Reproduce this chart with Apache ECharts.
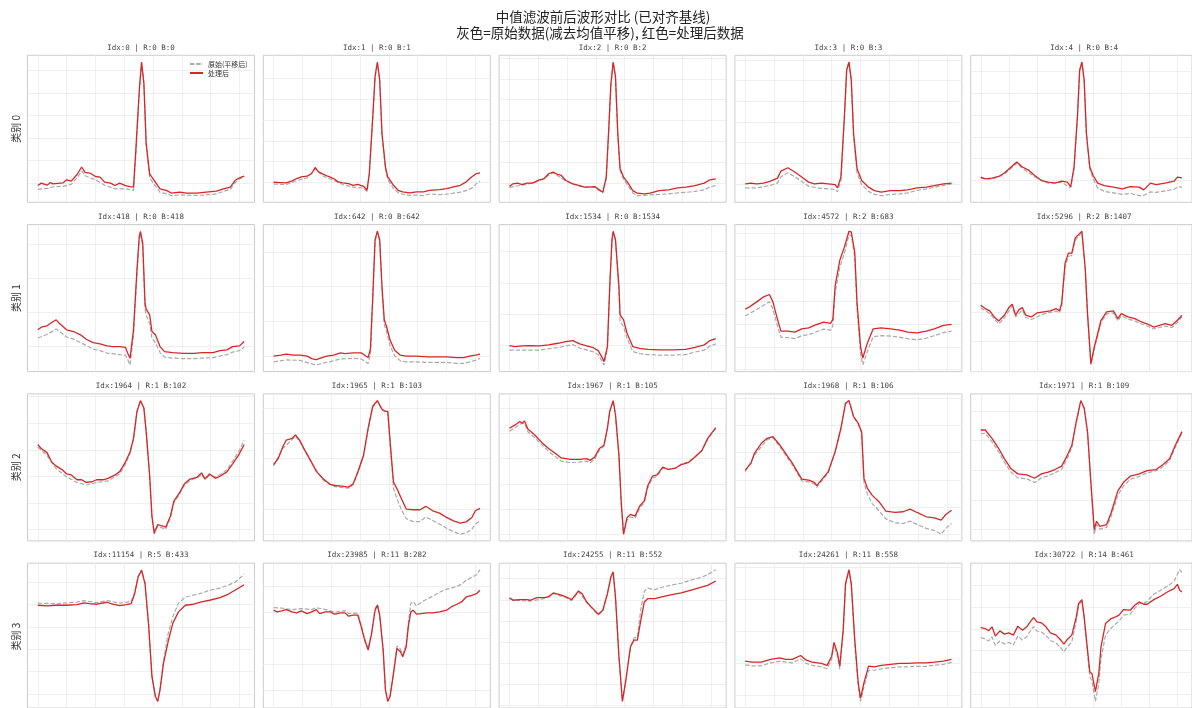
<!DOCTYPE html>
<html><head><meta charset="utf-8">
<script src="https://cdn.jsdelivr.net/npm/echarts@6/dist/echarts.min.js"></script>
<style>html,body{margin:0;padding:0;background:#fff}#c{width:1192px;height:708px}</style>
</head><body><div id="c"></div>
<script>
// ---- titles / labels ----
const mainTitle1 = '中值滤波前后波形对比 (已对齐基线)';
const mainTitle2 = '灰色=原始数据(减去均值平移), 红色=处理后数据';
const rowLabels = ['类别 0', '类别 1', '类别 2', '类别 3'];
const panelTitles = [
  'Idx:0 | R:0 B:0', 'Idx:1 | R:0 B:1', 'Idx:2 | R:0 B:2', 'Idx:3 | R:0 B:3', 'Idx:4 | R:0 B:4',
  'Idx:418 | R:0 B:418', 'Idx:642 | R:0 B:642', 'Idx:1534 | R:0 B:1534', 'Idx:4572 | R:2 B:683', 'Idx:5296 | R:2 B:1407',
  'Idx:1964 | R:1 B:102', 'Idx:1965 | R:1 B:103', 'Idx:1967 | R:1 B:105', 'Idx:1968 | R:1 B:106', 'Idx:1971 | R:1 B:109',
  'Idx:11154 | R:5 B:433', 'Idx:23985 | R:11 B:282', 'Idx:24255 | R:11 B:552', 'Idx:24261 | R:11 B:558', 'Idx:30722 | R:14 B:461'
];
const legendNames = ['原始(平移后)', '处理后'];
const sampleCount = 180;
const xGridTicks = [0, 25, 50, 75, 100, 125, 150, 175];

// ---- waveform values [sample index, amplitude] (orig = grey, proc = red) ----
const orig_r0c0 = [[0,13.5],[8,14.5],[13,16],[22,16.5],[29,18.5],[34,25],[38,32],[41,27],[50,23],[58,17.5],[67,14],[76,14],[83,12.5],[85,48],[88,110],[90,139],[92,118],[94,56],[97,25],[100,20],[106,10.5],[112,9],[116,7.3],[123,8],[138,7.5],[146,8],[155,9],[161,11.5],[167,13.5],[171,20],[175,24],[179,26]];
const proc_r0c0 = [[0,17.3],[3,19.7],[8,17.7],[11,20.3],[13,19],[22,20],[25,23],[29,21.7],[34,28.3],[38,35.7],[41,30.3],[45,29.7],[50,26.3],[54,25.7],[58,20.7],[63,19.7],[67,17.3],[71,19.7],[76,17.3],[80,16.3],[83,15.7],[85,52],[88,112],[90,140],[92,119],[94,59],[97,29],[100,24],[106,14],[112,12.3],[116,9.7],[123,10.7],[129,9.7],[138,9.7],[146,10.7],[155,11.7],[161,14],[167,15.7],[171,22.3],[175,25],[179,26.7]];
const orig_r0c1 = [[0,18.5],[11,18],[20,22],[29,24.5],[36,33.5],[43,26.5],[52,22],[60,18],[69,15.5],[78,14.5],[81,11],[83,27],[86,84],[88,125],[90,139.5],[92,121],[94,67],[97,33],[99,23],[104,14],[108,10],[112,8.5],[118,7.3],[124,7.5],[130,7],[135,8.5],[144,8],[150,8.5],[156,9.5],[162,10.5],[167,12],[172,14.5],[176,19],[179,21.3]];
const proc_r0c1 = [[0,20.3],[6,20],[11,19.7],[16,21.7],[20,24],[24,25.7],[29,26.3],[33,29],[36,35],[39,30.7],[43,28.3],[47,26.3],[52,24],[56,20.7],[60,19.7],[65,19],[69,17.3],[73,18.3],[78,16.3],[81,12.3],[83,29],[86,85.7],[88,125.7],[90,140],[92,122.3],[94,69],[97,35.7],[99,25.7],[104,17.3],[108,12.3],[112,10.7],[118,9.7],[124,10.7],[130,10.7],[135,12.3],[144,13],[150,14],[156,15.7],[162,17.3],[167,20.7],[172,25.7],[176,29],[179,29.7]];
const orig_r0c2 = [[0,15.5],[15,18.5],[26,22],[38,30],[49,21.5],[61,16.5],[74,15.5],[81,10],[84,24],[86,68],[88,116],[90,139.5],[92,124],[94,67],[96,32],[99,23.5],[103,17],[107,10],[111,7.3],[117,7.5],[122,8],[130,8.5],[138,9],[146,10],[153,10.5],[161,11.5],[169,13],[174,16],[179,17.3]];
const proc_r0c2 = [[0,16.3],[3,19],[7,19.7],[11,18.3],[15,19.7],[20,19.7],[26,23],[30,24],[34,29],[38,30.7],[42,28.3],[45,27.3],[49,22.3],[55,19],[61,17.3],[65,15.7],[68,15.7],[74,16.3],[78,13],[81,10.7],[84,25.7],[86,70],[88,118],[90,140],[92,125.7],[94,69],[96,34],[99,25.7],[103,19.7],[107,12.3],[111,9.7],[117,9],[122,9.7],[130,12.3],[138,13],[146,15],[153,15.7],[161,17.3],[169,19.7],[174,23],[179,24]];
const orig_r0c3 = [[0,15],[10,15],[22,17.5],[28,20],[31,26],[37,30],[43,26],[49,21.5],[55,16.5],[66,14.5],[78,13.5],[80,11],[83,22],[86,83],[88,131],[90,139.5],[92,121],[94,66],[97,30],[101,18],[107,11.5],[112,8.5],[118,7.3],[126,8.5],[134,9],[141,10],[149,12.5],[157,14],[164,15.5],[172,17.5],[179,19]];
const proc_r0c3 = [[0,19],[5,19.7],[10,19],[16,19.7],[22,21.7],[28,24.7],[31,31.7],[37,35],[43,30.7],[49,25.7],[55,20.7],[60,19],[66,19.7],[72,19],[78,18.3],[80,15],[83,25.7],[86,85.7],[88,132],[90,140],[92,122.3],[94,69],[97,34],[101,22.3],[107,15.7],[112,12.3],[118,10.7],[126,12.3],[134,12.3],[141,13],[149,15],[157,15.7],[164,17.3],[172,19],[179,19.7]];
const orig_r0c4 = [[0,24.5],[10,23.5],[21,28.5],[27,34.5],[32,39.5],[37,34.5],[48,26],[60,19.5],[72,20.5],[80,15],[83,34],[86,84],[88,131],[90,139.5],[92,121],[94,68],[97,34],[100,24],[104,15],[110,11.5],[118,10],[126,8.5],[133,9.5],[141,7.3],[145,7.5],[151,11],[156,10.5],[164,12],[172,13.5],[175,16],[179,15.7]];
const proc_r0c4 = [[0,25.7],[4,24],[10,24.7],[16,26.3],[21,29.7],[27,35.7],[32,40.7],[37,35.7],[43,32.3],[48,27.3],[54,22.3],[60,20.7],[66,19.7],[72,21.7],[77,20.7],[80,16.3],[83,35.7],[86,85.7],[88,132],[90,140],[92,122.3],[94,69],[97,35.7],[100,27.3],[104,19.7],[110,17.3],[118,15.7],[126,14],[133,16.3],[141,15.7],[145,13],[151,19.7],[156,18.3],[164,19.7],[172,21.7],[175,25.7],[179,25]];

const orig_r1c0 = [[0,33.5],[8,37],[16,42.5],[19,40],[25,34.5],[31,32.5],[42,26],[48,22.5],[54,21],[60,18.5],[71,17],[76,16.5],[78,12],[80,6.7],[83,36],[86,97],[88,132],[89,138],[91,125],[93,62],[94,56],[97,48],[99,33],[102,29],[106,19],[110,14.5],[117,13.5],[126,13],[135,13],[143,13.5],[152,14],[158,15.5],[164,17],[169,19.5],[175,21],[179,24.5]];
const proc_r1c0 = [[0,41.7],[3,44.3],[8,45.7],[12,49],[16,51.7],[19,47.7],[25,41.7],[31,40],[37,36.7],[42,32.3],[48,29],[54,27.7],[60,25.7],[65,25],[71,25],[76,24.3],[78,18.3],[80,13.3],[83,41.7],[86,101.7],[88,135],[89,140],[91,128.3],[93,68.3],[94,62.3],[97,56.7],[99,40],[102,36.7],[106,25],[110,20],[117,19],[126,18.3],[135,18.3],[143,19],[152,19],[158,21],[164,21.7],[169,25],[175,25.7],[179,30]];
const orig_r1c1 = [[0,10],[11,12],[23,11.5],[33,8],[37,7],[42,8.5],[52,11],[58,13],[69,13.5],[76,13],[82,8.5],[84,18],[86,72],[88,130],[90,139],[92,130],[94,82],[96,47],[98,40],[101,26],[105,16],[110,11],[115,10],[124,10],[133,9.5],[141,9.5],[150,9.5],[159,8.5],[165,8.5],[170,10],[175,11.5],[179,13.5]];
const proc_r1c1 = [[0,15.7],[6,16.7],[11,17.7],[17,16.7],[23,16.7],[29,15.7],[33,13.3],[37,12.3],[42,14.3],[46,15.7],[52,16.7],[58,19],[62,18.3],[69,19],[76,19],[79,16.7],[82,14.3],[84,23.3],[86,75],[88,131.7],[90,140],[92,131.7],[94,85],[96,51.7],[98,45],[101,31.7],[105,21.7],[110,16.7],[115,15.7],[124,15.7],[133,15],[141,15],[150,15],[159,14.3],[165,14.3],[170,15.7],[175,16.7],[179,17.7]];
const orig_r1c2 = [[0,21.5],[11,21.5],[26,21.5],[42,24],[55,27],[61,23.5],[72,20],[77,17],[80,11],[82,6.7],[85,22],[87,83],[89,131],[90,139],[92,130],[95,80],[96,50],[99,45],[102,33],[107,20],[113,18],[120,17],[130,16.5],[142,16.5],[153,17],[161,19.5],[169,21.5],[174,25.5],[179,27.7]];
const proc_r1c2 = [[0,26],[5,25],[11,25.7],[18,26],[26,25.7],[34,26.7],[42,28.3],[49,30],[55,31],[61,27.7],[67,25.7],[72,24.3],[77,21],[80,15],[82,10],[85,25],[87,85],[89,132.3],[90,140],[92,131.7],[95,85],[96,56.7],[99,51.7],[102,38.3],[107,25],[113,23.3],[120,22.3],[130,21.7],[142,21.7],[153,22.3],[161,24.3],[169,26.7],[174,31],[179,33]];
const orig_r1c3 = [[0,55],[10,61.5],[21,69],[24,62],[28,45],[31,34],[37,33.5],[43,32.5],[49,35.5],[55,36.5],[60,38.5],[68,42],[74,41],[76,45],[78,78],[82,103],[86,117],[90,135.5],[92,135],[95,113],[97,62],[100,18],[102,6.5],[106,20],[111,34.5],[118,35.5],[126,35],[134,34],[141,32.5],[149,31.5],[157,33],[164,35.5],[172,38.5],[179,40]];
const proc_r1c3 = [[0,61.7],[4,64.3],[10,69],[16,74],[21,76.3],[24,69],[28,51.7],[31,40],[37,40],[43,39],[49,42.3],[55,43.3],[60,45.7],[68,49],[74,47.7],[76,51.7],[78,85],[82,110],[86,123.3],[90,139],[92,138.3],[95,118.3],[97,68.3],[100,25],[102,13.3],[106,28.3],[111,42.3],[118,43.3],[126,42.3],[134,41],[141,39],[149,38.3],[157,40],[164,42.3],[172,45.7],[179,46.7]];
const orig_r1c4 = [[0,64],[8,58.5],[16,48],[21,54],[28,66],[31,55],[37,62],[40,54.5],[45,52.5],[56,58],[67,61],[70,59],[72,66],[75,105],[78,115],[81,116],[84,131],[87,135],[90,138.5],[93,101],[95,57],[98,7.4],[101,23],[104,36],[107,49.5],[112,58],[118,59],[122,51],[125,56],[131,53],[137,51],[143,48],[149,45.5],[154,43],[159,44.5],[164,46],[170,44.5],[175,49.5],[179,55]];
const proc_r1c4 = [[0,66.7],[4,63.3],[8,61],[12,55],[16,51],[21,56.7],[25,64.3],[28,67.7],[31,56.7],[34,62.3],[37,64.3],[40,56.7],[45,55],[50,59],[56,60],[62,61],[67,63.3],[70,61],[72,68.3],[75,108.3],[78,118.3],[81,118.3],[84,133.3],[87,136.7],[90,140],[93,102.3],[95,58.3],[98,8.6],[101,25],[104,38.3],[107,51.7],[112,60],[118,61],[122,53.3],[125,58.3],[131,55],[137,53.3],[143,50],[149,47.7],[154,45],[159,46.7],[164,48.3],[170,46.7],[175,51.7],[179,56.7]];

const orig_r2c0 = [[0,93.5],[8,85],[16,72],[25,64],[34,58.5],[42,56],[51,58.5],[61,60],[71,67],[76,76.5],[80,87],[83,101],[86,128],[89,139],[92,131.5],[94,108],[97,65],[99,24],[101,7.5],[102,10.5],[104,15],[107,14],[111,12.5],[115,23.5],[118,38.5],[123,47],[127,55.5],[132,60.5],[138,63],[142,66],[145,62],[149,65.5],[154,64],[158,66],[164,71],[169,79.5],[174,88.5],[179,100.2]];
const proc_r2c0 = [[0,95.9],[3,91.9],[8,87.9],[12,78.6],[16,74.6],[21,71.2],[25,66.9],[29,65.9],[34,61.2],[38,61.2],[42,58.6],[47,59.2],[51,61.2],[57,61.2],[61,62.6],[67,65.9],[71,69.2],[76,78.6],[80,88.6],[83,101.9],[86,128.6],[89,139.2],[92,131.9],[94,108.6],[97,65.2],[99,25.2],[101,8.6],[102,11.9],[104,16.9],[107,15.9],[111,14.6],[115,25.2],[118,40.2],[123,48.6],[127,56.9],[132,61.9],[138,63.6],[142,67.9],[145,61.9],[149,66.9],[154,62.6],[158,64.6],[164,68.9],[169,76.9],[174,85.2],[179,95.9]];
const orig_r2c1 = [[0,74.5],[8,92],[16,100.5],[19,104],[23,98],[32,79],[43,60.5],[53,54],[65,52.5],[69,56],[73,67.5],[78,84],[82,111],[86,133],[90,139],[94,130],[97,128],[99,127.5],[102,82],[104,52],[107,42],[111,31],[115,22.5],[121,19.5],[127,19.5],[132,24],[138,20.5],[144,17],[150,13],[156,9.5],[162,7],[167,8.5],[172,12],[175,17],[179,20.2]];
const proc_r2c1 = [[0,75.9],[4,81.9],[8,93.6],[11,100.2],[16,101.9],[19,105.2],[23,99.2],[27,90.2],[32,80.2],[37,69.2],[43,61.9],[49,56.2],[53,55.2],[59,54.6],[65,53.6],[69,56.9],[73,68.6],[78,85.2],[82,111.9],[86,133.6],[90,139.2],[94,130.6],[97,128.6],[99,128.6],[102,85.2],[104,58.6],[107,51.9],[111,41.9],[115,31.9],[121,31.2],[127,31.2],[132,34.6],[138,30.2],[144,27.9],[150,23.6],[156,20.2],[162,17.9],[167,19.2],[172,23.6],[175,30.2],[179,32.6]];
const orig_r2c2 = [[0,109],[5,112.5],[9,116],[13,117],[16,108.5],[22,102.5],[34,89],[45,79.5],[53,78],[61,78.5],[67,79.5],[70,77.5],[74,81.5],[78,90],[82,94],[85,111],[87,128],[90,139],[92,125],[95,84],[97,36],[99,7.3],[102,21],[105,24.5],[109,23],[113,33],[117,38.5],[120,53],[124,62.5],[128,64.5],[133,72.5],[138,71],[144,72.5],[149,76.5],[155,78.5],[161,84],[167,90],[172,101],[179,112]];
const proc_r2c2 = [[0,111.9],[5,115.2],[9,118.6],[11,116.9],[13,119.2],[16,111.2],[22,105.2],[28,97.9],[34,91.9],[40,86.9],[45,82.6],[53,81.2],[61,81.2],[67,81.9],[70,80.2],[74,83.6],[78,91.9],[82,95.2],[85,111.9],[87,128.6],[90,139.2],[92,125.2],[95,85.2],[97,38.6],[99,7.4],[102,23.6],[105,26.9],[109,25.2],[113,35.2],[117,40.2],[120,55.2],[124,64.6],[128,65.9],[133,73.6],[138,71.2],[144,72.6],[149,75.9],[155,77.9],[161,83.6],[167,89.9],[172,101.9],[179,112.6]];
const orig_r2c3 = [[0,68.5],[8,85],[19,100.5],[24,102.5],[30,93.5],[41,75],[49,59.5],[55,58.5],[60,56],[62,53],[66,58.5],[72,67],[78,87.5],[83,111],[87,136],[90,139.5],[94,123],[98,116],[101,107],[103,58],[106,46],[110,37],[116,29.5],[122,21.5],[130,17.5],[137,16.9],[143,19.2],[149,16],[157,12],[164,10],[170,6.2],[174,12],[179,16.9]];
const proc_r2c3 = [[0,70.2],[5,76.9],[8,86.9],[14,96.9],[19,101.9],[24,103.6],[30,95.2],[35,86.9],[41,76.9],[49,61.2],[55,60.2],[60,57.9],[62,54.6],[66,60.2],[72,68.6],[78,88.6],[83,111.9],[87,136.9],[90,139.5],[94,123.6],[98,116.9],[101,108.2],[103,61.9],[106,51.9],[110,45.2],[116,38.6],[122,29.2],[130,27.9],[137,28.6],[143,31.2],[149,27.9],[157,23.6],[164,22.6],[170,20.2],[174,25.9],[179,30.2]];
const orig_r2c4 = [[0,106.5],[4,107],[10,98.5],[16,88.5],[21,78.5],[27,68.5],[33,63],[41,62],[48,58.5],[54,63],[60,65],[66,68],[72,71.5],[77,82],[81,92.5],[85,117],[89,138.5],[92,131],[95,107],[98,56],[101,7.4],[103,17],[106,12.5],[112,14],[116,25],[122,46],[127,55],[133,61.5],[141,64.5],[148,68],[156,70],[162,74],[168,80],[173,93],[179,107.5]];
const proc_r2c4 = [[0,110.2],[4,110.2],[10,101.9],[16,91.9],[21,81.9],[27,71.9],[33,66.9],[41,65.9],[48,62.6],[54,66.9],[60,68.6],[66,71.2],[72,74.6],[77,85.2],[81,94.9],[85,118.6],[89,139.2],[92,131.9],[95,108.6],[98,58.6],[101,11.9],[103,20.2],[106,15.2],[112,16.9],[116,28.6],[122,50.2],[127,58.6],[133,64.6],[141,66.9],[148,70.2],[156,71.2],[162,75.9],[168,81.9],[173,94.9],[179,108.6]];

const orig_r3c0 = [[0,106],[16,105.5],[34,107],[40,108.5],[51,106.5],[60,108.5],[71,106],[81,107.5],[84,117],[87,133],[90,139.5],[93,126],[96,86],[99,33],[102,12.5],[104,7.3],[106,19.5],[109,48],[113,75],[117,92],[122,106],[128,112],[135,114],[142,116],[149,119],[158,121],[165,124],[171,127],[179,135]];
const proc_r3c0 = [[0,103.9],[8,103.2],[16,103.9],[25,103.9],[34,104.5],[40,106.2],[45,105.5],[51,104.9],[60,106.9],[65,104.9],[71,103.5],[77,104.5],[81,105.5],[84,115.5],[87,132.2],[90,138.9],[93,125.5],[96,85.5],[99,32.2],[102,12.2],[104,7.4],[106,18.9],[109,45.5],[113,67.2],[117,85.5],[122,97.2],[128,103.9],[135,104.9],[142,107.2],[149,108.9],[158,111.5],[165,114.9],[171,118.9],[179,124.5]];
const orig_r3c1 = [[0,101.5],[7,101],[16,99.5],[24,100.5],[33,99.5],[37,101.5],[45,99.5],[53,97],[62,98.5],[65,95.5],[73,96],[76,84],[79,70],[82,60],[85,76.5],[88,100],[90,105],[92,95],[95,60],[97,20],[99,7.3],[101,13],[104,37],[107,63],[110,60],[112,54.5],[115,64.5],[117,87],[119,106],[121,107.5],[124,103],[128,107],[133,110],[138,113],[144,117],[150,120],[154,121],[159,123],[163,125],[167,129],[172,132],[176,134.5],[179,139.5]];
const proc_r3c1 = [[0,98.9],[3,97.2],[7,98.2],[11,99.5],[16,97.2],[20,96.2],[24,98.2],[29,95.5],[33,97.2],[37,99.5],[40,95.5],[45,97.2],[49,97.2],[53,94.9],[58,96.2],[62,96.2],[65,92.9],[69,93.9],[73,93.9],[76,82.2],[79,68.9],[82,58.9],[85,75.5],[88,98.9],[90,103.9],[92,93.9],[95,58.9],[97,18.9],[99,7.4],[101,12.2],[104,35.5],[107,60.5],[110,57.2],[112,52.2],[115,62.2],[117,83.9],[119,97.2],[121,98.9],[124,94.9],[128,95.5],[133,96.2],[138,96.2],[144,97.2],[150,98.9],[154,102.2],[159,104.9],[163,107.2],[167,112.2],[172,113.9],[176,115.5],[179,118.9]];
const orig_r3c2 = [[0,110.5],[9,108.5],[18,108],[30,110.5],[38,115.5],[48,112],[54,108.5],[60,117.5],[67,106.5],[71,101.5],[77,94],[81,98],[85,115],[88,132],[90,137.5],[92,112],[95,52],[98,7.3],[101,28],[105,62],[108,71],[111,72],[114,100],[117,118],[120,121],[126,119.5],[134,122.5],[142,124.5],[149,126],[157,129],[165,131.5],[172,134.5],[179,139.5]];
const proc_r3c2 = [[0,111.5],[3,108.9],[9,109.5],[15,109.5],[18,108.9],[24,111.5],[30,111.5],[34,112.2],[38,116.2],[43,114.9],[48,112.9],[54,109.5],[60,118.2],[63,115.5],[67,107.2],[71,102.2],[77,94.9],[81,98.9],[85,115.5],[88,132.2],[90,137.2],[92,112.2],[95,52.2],[98,7.4],[101,28.9],[105,62.2],[108,68.9],[111,68.9],[114,88.9],[117,107.2],[120,110.5],[126,110.5],[134,112.9],[142,114.9],[149,116.2],[157,118.9],[165,121.5],[172,123.9],[179,128.2]];
const orig_r3c3 = [[0,43.5],[6,42.5],[14,42.5],[22,45.5],[30,47],[41,45.5],[48,49.5],[53,45],[58,43],[66,41.5],[71,39.5],[75,49],[77,63.5],[80,52],[82,39],[85,76],[87,124],[90,139],[92,124],[95,66],[98,21],[100,6.5],[103,21],[107,38],[112,38],[118,39.5],[126,40.5],[134,41.5],[141,41.5],[149,42],[157,42],[164,43],[172,44],[179,46]];
const proc_r3c3 = [[0,47.2],[6,46.2],[14,46.2],[22,48.9],[30,50.5],[35,48.9],[41,48.9],[48,52.9],[53,48.2],[58,46.2],[66,44.9],[71,42.9],[75,52.2],[77,66.2],[80,55.5],[82,42.2],[85,78.9],[87,125.5],[90,139.5],[92,125.5],[95,68.9],[98,25.5],[100,9.5],[103,25.5],[107,42.2],[112,41.5],[118,42.9],[126,43.9],[134,44.9],[141,44.9],[149,45.5],[157,45.5],[164,46.2],[172,47.2],[179,48.9]];
const orig_r3c4 = [[0,71.5],[4,70],[7,68],[10,72],[13,63.5],[17,68],[21,65],[25,66.5],[29,64],[33,73],[37,69],[41,72.5],[44,78],[47,82.5],[50,78],[54,77],[58,73.5],[62,68.5],[67,66],[71,61.5],[74,57],[77,62],[81,67],[85,88],[87,103],[90,109],[92,90],[95,55],[97,32],[99,28],[102,7.3],[105,25],[107,50],[111,74],[116,81],[120,85],[123,88],[127,94],[133,95],[137,101],[141,105.5],[145,106],[148,108],[154,115],[160,119],[166,123],[172,128],[175,135],[177,139.5],[179,137]];
const proc_r3c4 = [[0,81.5],[4,80.5],[7,78.2],[10,82.2],[13,72.9],[17,78.2],[21,74.9],[25,76.2],[29,73.9],[33,82.9],[37,78.9],[41,82.2],[44,87.2],[47,91.5],[50,87.2],[54,86.2],[58,82.2],[62,76.2],[67,73.9],[71,69.2],[74,64.9],[77,69.5],[81,73.9],[85,92.2],[87,105.5],[90,109.5],[92,92.2],[95,58.9],[97,37.2],[99,34.9],[102,17.2],[105,35.5],[107,62.2],[111,85.5],[116,90.5],[120,92.2],[123,93.9],[127,99.5],[133,98.9],[137,103.9],[141,107.2],[145,104.9],[148,104.9],[154,109.5],[160,112.9],[166,117.2],[172,120.5],[175,124.9],[177,118.9],[179,117.2]];

// ---- y tick values (grid lines) per panel ----
const ygrid_r0c0 = [19.8,42.2,64.6,87,109.4,131.8];
const ygrid_r0c1 = [20,40.8,61.6,82.4,103.2,124];
const ygrid_r0c2 = [19.7,40.4,61.1,81.8,102.5,123.2,143.9];
const ygrid_r0c3 = [19,39.5,60,80.5,101,121.5,142];
const ygrid_r0c4 = [22.3,44,65.7,87.4,109.1,130.8];
const ygrid_r1c0 = [25,58.9,92.8,126.7];
const ygrid_r1c1 = [16,50.4,84.8,119.2];
const ygrid_r1c2 = [26,57.3,88.6,119.9];
const ygrid_r1c3 = [1.8,24.3,46.8,69.3,91.8,114.3,136.8];
const ygrid_r1c4 = [1.5,30.5,59.5,88.5,117.5];
const ygrid_r2c0 = [12,38.2,64.4,90.6,116.8,143];
const ygrid_r2c1 = [6.9,31.9,56.9,81.9,106.9,131.9];
const ygrid_r2c2 = [6.9,31.9,56.9,81.9,106.9,131.9];
const ygrid_r2c3 = [6.2,33.3,60.4,87.5,114.6,141.7];
const ygrid_r2c4 = [11.9,41.2,70.5,99.8,129.1];
const ygrid_r3c0 = [14.9,37.3,59.8,82.2,104.7,127.1];
const ygrid_r3c1 = [18.9,44.9,70.9,96.9,122.9];
const ygrid_r3c2 = [3.9,25,46.1,67.2,88.3,109.4,130.5];
const ygrid_r3c3 = [12.9,45.2,77.5,109.8,142.1];
const ygrid_r3c4 = [14.5,36.4,58.3,80.2,102.1,124];

const origList = [orig_r0c0,orig_r0c1,orig_r0c2,orig_r0c3,orig_r0c4,orig_r1c0,orig_r1c1,orig_r1c2,orig_r1c3,orig_r1c4,orig_r2c0,orig_r2c1,orig_r2c2,orig_r2c3,orig_r2c4,orig_r3c0,orig_r3c1,orig_r3c2,orig_r3c3,orig_r3c4];
const procList = [proc_r0c0,proc_r0c1,proc_r0c2,proc_r0c3,proc_r0c4,proc_r1c0,proc_r1c1,proc_r1c2,proc_r1c3,proc_r1c4,proc_r2c0,proc_r2c1,proc_r2c2,proc_r2c3,proc_r2c4,proc_r3c0,proc_r3c1,proc_r3c2,proc_r3c3,proc_r3c4];
const ygridList = [ygrid_r0c0,ygrid_r0c1,ygrid_r0c2,ygrid_r0c3,ygrid_r0c4,ygrid_r1c0,ygrid_r1c1,ygrid_r1c2,ygrid_r1c3,ygrid_r1c4,ygrid_r2c0,ygrid_r2c1,ygrid_r2c2,ygrid_r2c3,ygrid_r2c4,ygrid_r3c0,ygrid_r3c1,ygrid_r3c2,ygrid_r3c3,ygrid_r3c4];

// ---- layout ----
const COLS = 5, PW = 227, PH = 147, X0 = 27.5, DX = 235.8, Y0 = 55.3, DY = 169.3;
const RED = '#d62728', GREY = '#aaaaaa', GRIDC = '#ebebeb';

const grids = [], xAxes = [], yAxes = [], series = [];
const titles = [
  { text: mainTitle1, left: 603, top: 8.5, textAlign: 'center', padding: 0,
    textStyle: { fontSize: 13.5, fontWeight: 'normal', fontFamily: '"Noto Sans CJK SC"', color: '#222', lineHeight: 16 } },
  { text: mainTitle2, left: 600, top: 24.4, textAlign: 'center', padding: 0,
    textStyle: { fontSize: 13.5, fontWeight: 'normal', fontFamily: '"Noto Sans CJK SC"', color: '#222', lineHeight: 16 } }
];
for (let k = 0; k < origList.length; k++) {
  const r = Math.floor(k / COLS), c = k % COLS;
  const left = X0 + c * DX, top = Y0 + r * DY;
  grids.push({ left, top, width: PW, height: PH, show: true, borderColor: '#cccccc', borderWidth: 1, backgroundColor: '#ffffff' });
  xAxes.push({
    type: 'value', gridIndex: k,
    min: -0.05 * (sampleCount - 1), max: 1.05 * (sampleCount - 1),
    axisLine: { show: false }, axisLabel: { show: false },
    axisTick: { show: false, customValues: xGridTicks },
    splitLine: { show: true, lineStyle: { color: GRIDC, width: 0.8 } }
  });
  const vals = origList[k].concat(procList[k]).map(p => p[1]);
  const lo = Math.min(...vals), hi = Math.max(...vals), span = hi - lo;
  yAxes.push({
    type: 'value', gridIndex: k,
    min: lo - 0.05 * span, max: hi + 0.05 * span,
    axisLine: { show: false }, axisLabel: { show: false },
    axisTick: { show: false, customValues: ygridList[k] },
    splitLine: { show: true, lineStyle: { color: GRIDC, width: 0.8 } }
  });
  series.push({
    name: legendNames[0], type: 'line', xAxisIndex: k, yAxisIndex: k, data: origList[k],
    symbol: 'none', showSymbol: false, silent: true, z: 2,
    lineStyle: { color: GREY, width: 1.2, type: [4.4, 1.9] }, itemStyle: { color: GREY }
  });
  series.push({
    name: legendNames[1], type: 'line', xAxisIndex: k, yAxisIndex: k, data: procList[k],
    symbol: 'none', showSymbol: false, silent: true, z: 3,
    lineStyle: { color: RED, width: 1.3 }, itemStyle: { color: RED }
  });
  titles.push({
    text: panelTitles[k], left: left + PW / 2, top: top - 12.2, textAlign: 'center', padding: 0,
    textStyle: { fontSize: 7.5, fontWeight: 'normal', fontFamily: '"DejaVu Sans Mono", monospace', color: '#444', lineHeight: 9 }
  });
}

const graphics = rowLabels.map((t, r) => ({
  type: 'text', x: 16, y: Y0 + r * DY + PH / 2, rotation: Math.PI / 2,
  style: { text: t, x: 0, y: 0, align: 'center', verticalAlign: 'middle', textAlign: 'center', textVerticalAlign: 'middle',
           font: '10px "Noto Sans CJK SC"', fill: '#333' }
}));

const chart = echarts.init(document.getElementById('c'), null, { renderer: 'canvas' });
chart.setOption({
  animation: false,
  backgroundColor: '#ffffff',
  title: titles,
  legend: {
    data: legendNames, orient: 'vertical', left: 189, top: 60.5, padding: 0,
    itemWidth: 13, itemHeight: 8, itemGap: 2, selectedMode: false,
    itemStyle: { opacity: 0 },
    textStyle: { fontSize: 7, fontFamily: '"Noto Sans CJK SC"', color: '#333' }
  },
  grid: grids, xAxis: xAxes, yAxis: yAxes, series: series,
  graphic: graphics
});
</script></body></html>
